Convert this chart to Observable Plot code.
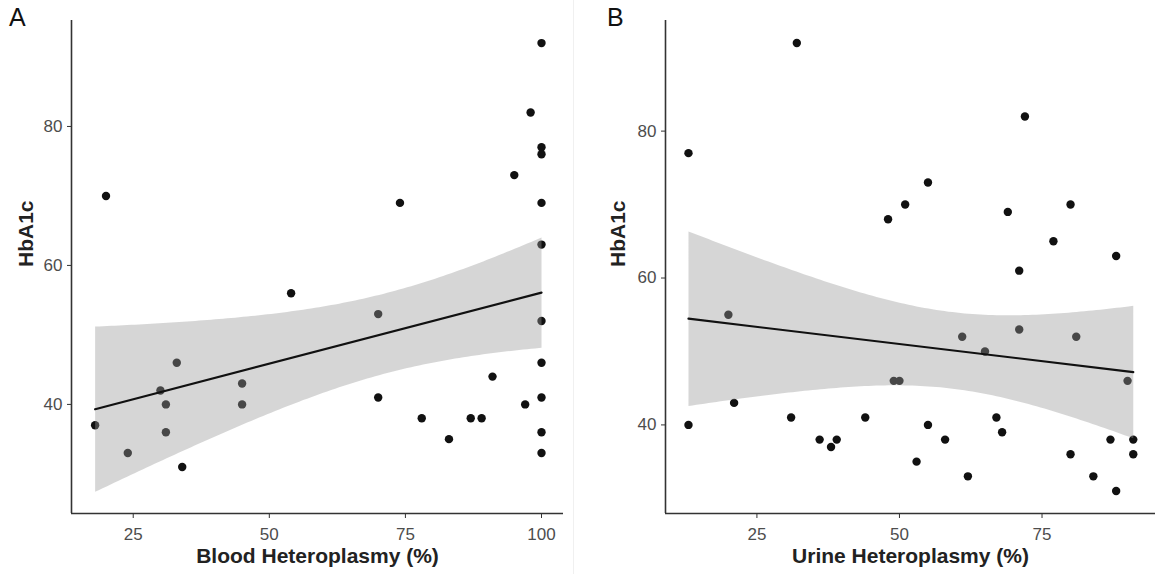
<!DOCTYPE html>
<html><head><meta charset="utf-8">
<script src="https://cdn.jsdelivr.net/npm/d3@7"></script>
<script src="https://cdn.jsdelivr.net/npm/@observablehq/plot@0.6"></script>
<style>
html,body{margin:0;padding:0;background:#fff;}
#wrap{position:relative;width:1155px;height:574px;overflow:hidden;font-family:"Liberation Sans",Arial,sans-serif;}
#a{position:absolute;left:0;top:0;}
#b{position:absolute;left:577px;top:0;}
#sep{position:absolute;left:573px;top:0;width:1px;height:574px;background:#f0f0f0;}
.tag{position:absolute;top:5px;font-size:25px;color:#111;line-height:1;}
</style></head>
<body>
<div id="wrap">
  <div id="a"></div>
  <div id="sep"></div>
  <div id="b"></div>
  <div class="tag" style="left:9px;">A</div>
  <div class="tag" style="left:607px;">B</div>
</div>
<script>
// Panel A: blood heteroplasmy vs HbA1c
const bloodHet = [20,54,100,98,100,100,95,74,100,100,18,24,30,31,31,33,34,45,45,70,100,100,91,70,100,97,78,87,89,83,100,100];
const bloodHbA1c = [70,56,92,82,77,76,73,69,69,63,37,33,42,40,36,46,31,43,40,53,52,46,44,41,41,40,38,38,38,35,36,33];
// Panel B: urine heteroplasmy vs HbA1c
const urineHet = [13,32,72,55,51,48,69,80,77,88,71,20,21,13,31,36,38,39,44,61,71,81,65,49,50,90,67,55,68,58,87,91,80,91,53,62,84,88];
const urineHbA1c = [77,92,82,73,70,68,69,70,65,63,61,55,43,40,41,38,37,38,41,52,53,52,50,46,46,46,41,40,39,38,38,38,36,36,35,33,33,31];
// Axis ticks
const xTicksA = [25,50,75,100];
const xTicksB = [25,50,75];
const yTicks = [40,60,80];
const xTitleA = "Blood Heteroplasmy (%)";
const xTitleB = "Urine Heteroplasmy (%)";
const yTitle = "HbA1c";

function panel({xs, ys, xDomain, yDomain, xTicks, width, marginLeft, marginRight, xTitle, yTitleDx, xTitleDx}) {
  const data = xs.map((x, i) => ({x, y: ys[i]}));
  return Plot.plot({
    width, height: 574,
    marginTop: 20, marginBottom: 61, marginLeft, marginRight,
    x: {domain: xDomain},
    y: {domain: yDomain},
    style: {fontFamily: "Liberation Sans, Arial, sans-serif", background: "white", overflow: "visible"},
    marks: [
      Plot.dot(data, {x: "x", y: "y", r: 4.2, fill: "#111", stroke: null}),
      Plot.linearRegressionY(data, {x: "x", y: "y", stroke: "#111", strokeWidth: 2.2, fill: "#999999", fillOpacity: 0.4, ci: 0.95}),
      Plot.ruleX([xDomain[0]], {stroke: "#333", strokeWidth: 1.6}),
      Plot.ruleY([yDomain[0]], {stroke: "#333", strokeWidth: 1.6}),
      Plot.axisX(xTicks, {tickSize: 5, tickPadding: 9, label: null, color: "#4d4d4d", fontSize: 17, stroke: "#333"}),
      Plot.axisY(yTicks, {tickSize: 4, tickPadding: 5, label: null, color: "#4d4d4d", fontSize: 17, stroke: "#333"}),
      Plot.text([xTitle], {frameAnchor: "bottom", dy: 49, dx: xTitleDx, fontSize: 21, fontWeight: "bold", fill: "#222"}),
      Plot.text([yTitle], {frameAnchor: "left", rotate: -90, dx: yTitleDx, fontSize: 21, fontWeight: "bold", fill: "#222"})
    ]
  });
}

document.getElementById("a").append(panel({
  xs: bloodHet, ys: bloodHbA1c,
  xDomain: [13.66, 104.04], yDomain: [24.3, 95.25],
  xTicks: xTicksA, width: 577, marginLeft: 71, marginRight: 14,
  xTitle: xTitleA, yTitleDx: -45, xTitleDx: 0
}));
document.getElementById("b").append(panel({
  xs: urineHet, ys: urineHbA1c,
  xDomain: [8.97, 94.9], yDomain: [27.94, 95.06],
  xTicks: xTicksB, width: 578, marginLeft: 88, marginRight: 0,
  xTitle: xTitleB, yTitleDx: -47, xTitleDx: 0
}));
</script>
</body></html>
